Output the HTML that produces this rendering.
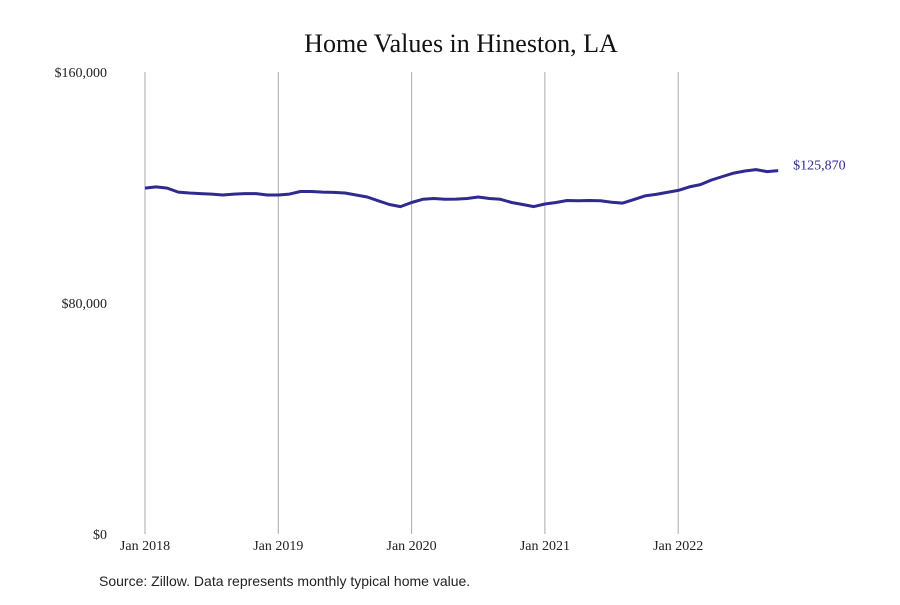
<!DOCTYPE html>
<html><head><meta charset="utf-8"><style>
body{margin:0;background:#fff;width:900px;height:600px;overflow:hidden}
svg text{font-family:"Liberation Serif",serif}
</style></head><body>
<svg width="900" height="600" xmlns="http://www.w3.org/2000/svg">
<text x="461" y="52" text-anchor="middle" font-size="26" fill="#111">Home Values in Hineston, LA</text>
<g id="grid"></g>
<g id="yaxis"></g>
<g id="xaxis"></g>
<path id="line" fill="none" stroke="#2e2a8f" stroke-width="3" stroke-linejoin="round"/>
<text id="endlabel" font-size="14" fill="#2e2a8f"></text>
<text x="99" y="586" font-size="14" fill="#222" style="font-family:'Liberation Sans',sans-serif">Source: Zillow. Data represents monthly typical home value.</text>
</svg>
<script>
const yTicks=[0,80000,160000];
const yTickLabels=["$0","$80,000","$160,000"];
const xTickLabels=["Jan 2018","Jan 2019","Jan 2020","Jan 2021","Jan 2022"];
const xTickMonths=[0,12,24,36,48];
const values=[119800,120200,119800,118400,118100,117900,117700,117400,117700,117900,117900,117400,
117400,117700,118600,118600,118400,118300,118100,117400,116700,115400,114100,113400,
114800,115900,116200,115900,116000,116200,116700,116200,115900,114800,114100,113400,
114300,114800,115500,115400,115500,115400,114900,114600,115800,117100,117600,118300,
119000,120200,121000,122600,123800,125000,125700,126200,125500,125870];
const ns="http://www.w3.org/2000/svg";
const x=m=>145+m*(133.3/12);
const y=v=>534-v/160000*462;
const grid=document.getElementById('grid'),ya=document.getElementById('yaxis'),xa=document.getElementById('xaxis');
xTickMonths.forEach((m,i)=>{
 const l=document.createElementNS(ns,'line');
 
 
 l.setAttribute('x1',x(m));l.setAttribute('x2',x(m));l.setAttribute('y1',72);l.setAttribute('y2',534);
 l.setAttribute('stroke','#aaa');l.setAttribute('stroke-width','1');grid.appendChild(l);
 const t=document.createElementNS(ns,'text');
 
 
 t.setAttribute('x',x(m));t.setAttribute('y',550);t.setAttribute('text-anchor','middle');
 t.setAttribute('font-size','14');t.setAttribute('fill','#222');t.textContent=xTickLabels[i];xa.appendChild(t);
});
yTicks.forEach((v,i)=>{
 const t=document.createElementNS(ns,'text');
 
 
 t.setAttribute('x',107);t.setAttribute('y',y(v)+5);t.setAttribute('text-anchor','end');
 t.setAttribute('font-size','14');t.setAttribute('fill','#222');t.textContent=yTickLabels[i];ya.appendChild(t);
});
document.getElementById('line').setAttribute('d',values.map((v,i)=>(i?'L':'M')+x(i).toFixed(1)+','+y(v).toFixed(1)).join(''));
const last=values.length-1,el=document.getElementById('endlabel');
el.setAttribute('x',x(last)+15);el.setAttribute('y',y(values[last])-1);
el.textContent='$'+values[last].toLocaleString('en-US');
</script>
</body></html>
